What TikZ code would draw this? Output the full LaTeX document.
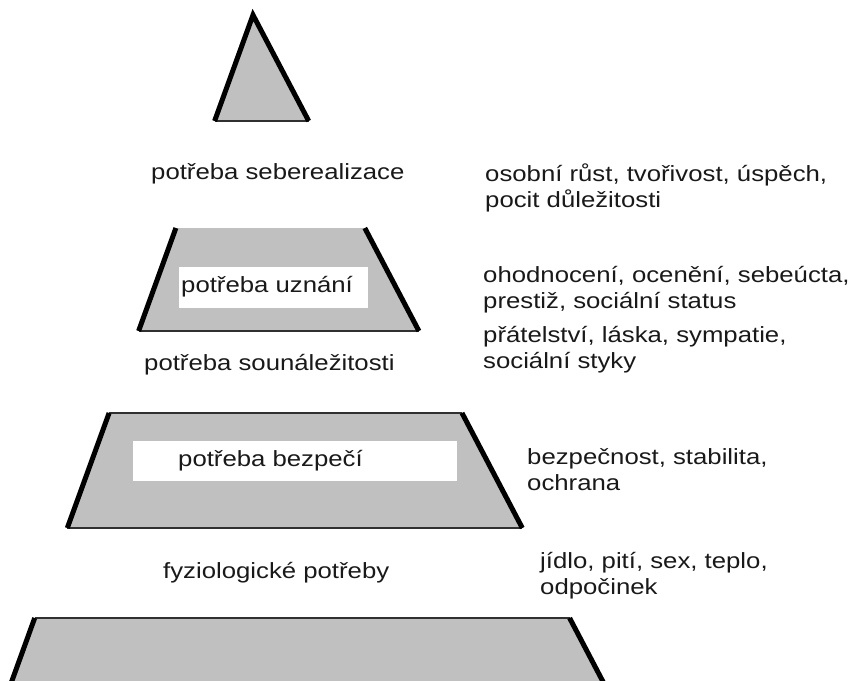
\documentclass[tikz,border=0pt]{standalone}
\usepackage{fontspec}
\setmainfont{Liberation Sans}[FakeStretch=1.17]
\definecolor{pyrgray}{HTML}{C0C0C0}
\definecolor{edgegray}{HTML}{303030}
\begin{document}
\begin{tikzpicture}[x=1pt,y=-1pt,
  side/.style={line width=5pt,black},
  base/.style={line width=2pt,edgegray},
  lbl/.style={font=\fontsize{22}{26}\selectfont,inner sep=0pt,anchor=west,align=left,text=black!90},
  wbox/.style={fill=white,draw=none}]
\useasboundingbox (0,0) rectangle (859,680);
% top triangle
\fill[pyrgray] (253,15) -- (308.7,121) -- (214.6,121) -- cycle;
\draw[base] (214.6,121) -- (308.7,121);
\draw[side] (214.6,121) -- (253,15) -- (308.7,121);
% level 2
\fill[pyrgray] (175.9,228) -- (364.8,228) -- (418.9,331) -- (138.6,331) -- cycle;
\draw[base] (138.6,331) -- (418.9,331);
\draw[side] (175.9,228) -- (138.6,331);
\draw[side] (364.8,228) -- (418.9,331);
\fill[wbox] (179,267) rectangle (368,308);
% level 3
\fill[pyrgray] (109.1,413) -- (462,413) -- (522.3,528) -- (67.3,528) -- cycle;
\draw[base] (109.1,413) -- (462,413);
\draw[base] (67.3,528) -- (522.3,528);
\draw[side] (109.1,413) -- (67.3,528);
\draw[side] (462,413) -- (522.3,528);
\fill[wbox] (133,441) rectangle (457,481);
% bottom level
\fill[pyrgray] (34.7,618) -- (569.6,618) -- (612.6,700) -- (5,700) -- cycle;
\draw[base] (34.7,618) -- (569.6,618);
\draw[side] (34.7,618) -- (5,700);
\draw[side] (569.6,618) -- (612.6,700);
% texts
\node[lbl] (sr) at (151,173.5) {potřeba seberealizace};
\node[lbl] (srr) at (485,187.5) {osobní růst, tvořivost, úspěch,\\pocit důležitosti};
\node[lbl] (un) at (181,287) {potřeba uznání};
\node[lbl] (unr) at (483,289.5) {ohodnocení, ocenění, sebeúcta,\\prestiž, sociální status};
\node[lbl] (so) at (144,365) {potřeba sounáležitosti};
\node[lbl] (sor) at (483,349.5) {přátelství, láska, sympatie,\\sociální styky};
\node[lbl] (bz) at (178,461) {potřeba bezpečí};
\node[lbl] (bzr) at (527,470) {bezpečnost, stabilita,\\ochrana};
\node[lbl] (fz) at (163,573) {fyziologické potřeby};
\node[lbl] (fzr) at (540,576) {jídlo, pití, sex, teplo,\\odpočinek};
\end{tikzpicture}
\end{document}
